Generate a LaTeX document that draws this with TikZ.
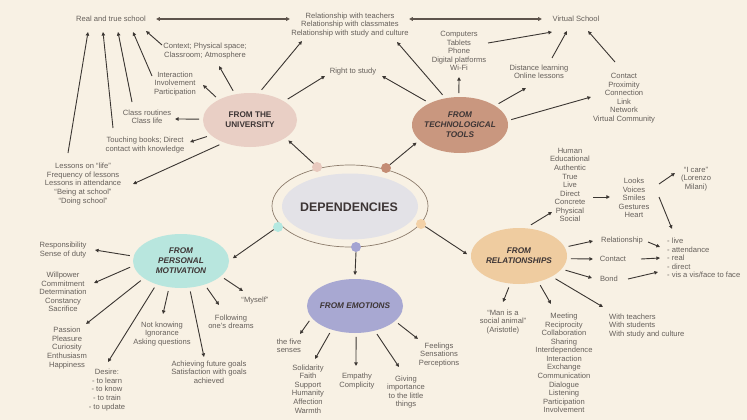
\documentclass[tikz,border=0pt]{standalone}
\usepackage{fontspec}
\setmainfont{Liberation Sans}
\usetikzlibrary{shapes.geometric,arrows.meta,calc}
\definecolor{bgc}{HTML}{F8F1E4}
\definecolor{txtc}{HTML}{66605B}
\definecolor{arrc}{HTML}{3B3632}
\definecolor{linec}{HTML}{5E544C}
\definecolor{unic}{HTML}{E9CFC5}
\definecolor{techc}{HTML}{C9977F}
\definecolor{motc}{HTML}{B8E6DE}
\definecolor{emoc}{HTML}{A8A8D2}
\definecolor{relc}{HTML}{EFCCA0}
\definecolor{depc}{HTML}{E3E2E7}
\definecolor{depline}{HTML}{8C7B6B}
\definecolor{pinkd}{HTML}{E8C9BE}
\definecolor{brownd}{HTML}{C48C74}
\definecolor{cyand}{HTML}{B4E8E0}
\definecolor{purpled}{HTML}{A4A4D2}
\definecolor{peachd}{HTML}{F3D1A7}
\definecolor{etc}{HTML}{3D3535}
\begin{document}
\begin{tikzpicture}[x=1pt,y=-1pt,
  txt/.style={font=\fontsize{7.6}{8.55}\selectfont, text=txtc, align=center, inner sep=0pt},
  ltxt/.style={txt, align=left, anchor=west},
  ell/.style={ellipse, inner sep=0pt, outer sep=4pt},
  etxt/.style={font=\fontsize{8.2}{10}\selectfont\bfseries\itshape, text=etc, align=center, inner sep=0pt},
  arr/.style={draw=arrc, line width=0.9pt, -{Triangle[length=3.6pt,width=3.4pt]}},
  darr/.style={draw=linec, line width=1.2pt, {Triangle[length=3.8pt,width=3.6pt]}-{Triangle[length=3.8pt,width=3.6pt]}},
  dotn/.style={circle, minimum size=10pt, inner sep=0pt, outer sep=0pt}
]
\useasboundingbox (0,0) rectangle (747,420);
\fill[bgc] (0,0) rectangle (747,420);

% ---------- main ellipses ----------
\node[ell, fill=unic, minimum width=94pt, minimum height=54pt] (uni) at (250,120) {};
\node[etxt, font=\fontsize{8.2}{10}\selectfont\bfseries] (uniT) at (uni) {FROM THE\\UNIVERSITY};
\node[ell, fill=techc, minimum width=96pt, minimum height=56pt] (tech) at (460,125) {};
\node[etxt] (techT) at (tech) {FROM\\TECHNOLOGICAL\\TOOLS};
\node[ell, fill=motc, minimum width=96pt, minimum height=54pt] (mot) at (181,261) {};
\node[etxt] (motT) at (mot) {FROM\\PERSONAL\\MOTIVATION};
\node[ell, fill=emoc, minimum width=96pt, minimum height=54pt] (emo) at (355,306) {};
\node[etxt] (emoT) at (emo) {FROM EMOTIONS};
\node[ell, fill=relc, minimum width=96pt, minimum height=56pt] (rel) at (519,256) {};
\node[etxt] (relT) at (rel) {FROM\\RELATIONSHIPS};

\node[ellipse, draw=depline, line width=0.7pt, minimum width=156pt, minimum height=82pt] (dep) at (350,206) {};
\node[ellipse, fill=depc, minimum width=136pt, minimum height=66pt] (depin) at (350,206.5) {};
\node[font=\fontsize{12.4}{14}\selectfont\bfseries, text=etc, inner sep=0pt] (depT) at (349,207) {DEPENDENCIES};

\node[dotn, fill=pinkd] (dpink) at (317,167) {};
\node[dotn, fill=brownd] (dbrown) at (386,168) {};
\node[dotn, fill=cyand] (dcyan) at (278,227) {};
\node[dotn, fill=purpled] (dpurple) at (356,247) {};
\node[dotn, fill=peachd] (dpeach) at (421,224) {};

% ---------- text nodes ----------
\node[txt] (real) at (111,19) {Real and true school};
\node[txt] (relt) at (350,25) {Relationship with teachers\\Relationship with classmates\\Relationship with study and culture};
\node[txt] (virt) at (576,19) {Virtual School};
\node[txt] (ctx) at (205,51) {Context; Physical space;\\Classroom; Atmosphere};
\node[txt] (inter) at (175,84) {Interaction\\Involvement\\Participation};
\node[txt] (routines) at (147,117) {Class routines\\Class life};
\node[txt] (books) at (145,145) {Touching books; Direct\\contact with knowledge};
\node[txt] (lessons) at (83,184) {Lessons on “life”\\Frequency of lessons\\Lessons in attendance\\“Being at school”\\“Doing school”};
\node[txt] (right) at (353,72) {Right to study};
\node[txt] (comp) at (459,51) {Computers\\Tablets\\Phone\\Digital platforms\\Wi-Fi};
\node[txt] (dist) at (539,72) {Distance learning\\Online lessons};
\node[txt] (cont) at (624,98) {Contact\\Proximity\\Connection\\Link\\Network\\Virtual Community};

\node[txt] (resp) at (63,250) {Responsibility\\Sense of duty};
\node[txt] (will) at (63,292) {Willpower\\Commitment\\Determination\\Constancy\\Sacrifice};
\node[txt] (passion) at (67,348) {Passion\\Pleasure\\Curiosity\\Enthusiasm\\Happiness};
\node[txt] (desire) at (107,390) {Desire:\\- to learn\\- to know\\- to train\\- to update};
\node[txt] (notknow) at (162,334) {Not knowing\\Ignorance\\Asking questions};
\node[txt] (achieve) at (209,372) {Achieving future goals\\Satisfaction with goals\\achieved};
\node[txt] (follow) at (231,322) {Following\\one’s dreams};
\node[txt] (myself) at (255,301) {“Myself”};

\node[txt] (senses) at (289,346) {the five\\senses};
\node[txt] (solid) at (308,389) {Solidarity\\Faith\\Support\\Humanity\\Affection\\Warmth};
\node[txt] (empathy) at (357,381) {Empathy\\Complicity};
\node[txt] (giving) at (406,392) {Giving\\importance\\to the little\\things};
\node[txt] (feel) at (439,355) {Feelings\\Sensations\\Perceptions};

\node[txt] (human) at (570,185) {Human\\Educational\\Authentic\\True\\Live\\Direct\\Concrete\\Physical\\Social};
\node[txt] (looks) at (634,198) {Looks\\Voices\\Smiles\\Gestures\\Heart};
\node[txt] (icare) at (696,179) {“I care”\\(Lorenzo\\Milani)};
\node[ltxt] (live) at (667,258) {- live\\- attendance\\- real\\- direct\\- vis a vis/face to face};
\node[txt] (relw) at (622,241) {Relationship};
\node[txt] (contactw) at (613,259) {Contact};
\node[txt] (bond) at (609,279) {Bond};
\node[txt] (man) at (503,322) {“Man is a\\social animal”\\(Aristotle)};
\node[txt] (meet) at (564,363) {Meeting\\Reciprocity\\Collaboration\\Sharing\\Interdependence\\Interaction\\Exchange\\Communication\\Dialogue\\Listening\\Participation\\Involvement};
\node[ltxt] (withT) at (609,326) {With teachers\\With students\\With study and culture};

% ---------- connectors: university ----------
\draw[arr] (uni.120) -- ($(ctx)+(14,15)$);
\draw[arr] (uni.146) -- ($(inter)+(28,1)$);
\draw[arr] (uni.179) -- ($(routines)+(28,2)$);
\draw[arr] (uni.201) -- ($(books)+(45,-3)$);
\draw[arr] (uni.219) -- ($(lessons)+(50,0)$);
\draw[arr] (uni.69) -- ($(relt)+(-48,16)$);
\draw[arr] (uni.29) -- ($(right)+(-28,4)$);

\draw[arr] ($(lessons)+(-15,-31)$) -- ($(real)+(-23,13)$);
\draw[arr] ($(books)+(-32,-17)$) -- ($(real)+(-8,13)$);
\draw[arr] ($(routines)+(-15,-15)$) -- ($(real)+(7,13)$);
\draw[arr] ($(inter)+(-23,-8)$) -- ($(real)+(22,13)$);
\draw[arr] ($(ctx)+(-43,-6)$) -- ($(real)+(35,12)$);

\draw[darr] ($(real)+(45,0)$) -- ($(relt)+(-60,-6)$);
\draw[darr] ($(relt)+(59,-6)$) -- ($(virt)+(-34,0)$);

% ---------- connectors: technological tools ----------
\draw[arr] (tech.120) -- ($(relt)+(47,17)$);
\draw[arr] (tech.145) -- ($(right)+(29,4)$);
\draw[arr] (tech.92) -- ($(comp)+(0,26)$);
\draw[arr] (tech.29) -- ($(dist)+(-13,16)$);
\draw[arr] (tech.6) -- ($(cont)+(-33,-1)$);
\draw[arr] ($(comp)+(29,-8)$) -- ($(virt)+(-24,13)$);
\draw[arr] ($(dist)+(13,-14)$) -- ($(virt)+(-9,12)$);
\draw[arr] ($(cont)+(-9,-36)$) -- ($(virt)+(12,12)$);

% ---------- connectors: dependencies ----------
\draw[arr] (dpink.135) -- (uni.-28);
\draw[arr] (dbrown.40) -- (tech.202);
\draw[arr] (dcyan.211) -- (mot.3);
\draw[arr] (dpurple.south) -- (emo.north);
\draw[arr] (dpeach.329) -- (rel.178);

% ---------- connectors: motivation ----------
\draw[arr] (mot.174) -- ($(resp)+(32,0)$);
\draw[arr] (mot.187) -- ($(will)+(31,-9)$);
\draw[arr] (mot.206) -- ($(passion)+(19,-24)$);
\draw[arr] (mot.225) -- ($(desire)+(1,-28)$);
\draw[arr] (mot.247) -- ($(notknow)+(1,-20)$);
\draw[arr] (mot.287) -- ($(achieve)+(-5,-15)$);
\draw[arr] (mot.314) -- ($(follow)+(-12,-17)$);
\draw[arr] (mot.338) -- ($(myself)+(-12,-10)$);

% ---------- connectors: emotions ----------
\draw[arr] (emo.198) -- ($(senses)+(11,-12)$);
\draw[arr] (emo.227) -- ($(solid)+(7,-30)$);
\draw[arr] (emo.272) -- ($(empathy)+(-1,-15)$);
\draw[arr] (emo.308) -- ($(giving)+(-7,-25)$);
\draw[arr] (emo.338) -- ($(feel)+(-21,-16)$);

% ---------- connectors: relationships ----------
\draw[arr] (rel.69) -- ($(human)+(-18,27)$);
\draw[arr] (rel.11) -- ($(relw)+(-29,0)$);
\draw[arr] (rel.357) -- ($(contactw)+(-20,0)$);
\draw[arr] (rel.343) -- ($(bond)+(-17,-1)$);
\draw[arr] (rel.252) -- ($(man)+(0,-20)$);
\draw[arr] (rel.306) -- ($(meet)+(-13,-59)$);
\draw[arr] (rel.328) -- ($(withT.west)+(-6,-19)$);
\draw[arr] ($(human)+(23,12)$) -- ($(looks)+(-24,-1)$);
\draw[arr] ($(looks)+(25,-14)$) -- ($(icare)+(-21,-6)$);
\draw[arr] ($(looks)+(25,-1)$) -- ($(live.north west)+(5,-9)$);
\draw[arr] ($(relw)+(26,1)$) -- ($(live.west)+(-7,-11)$);
\draw[arr] ($(contactw)+(28,0)$) -- ($(live.west)+(-7,0)$);
\draw[arr] ($(bond)+(19,0)$) -- ($(live.west)+(-9,14)$);
\end{tikzpicture}
\end{document}
